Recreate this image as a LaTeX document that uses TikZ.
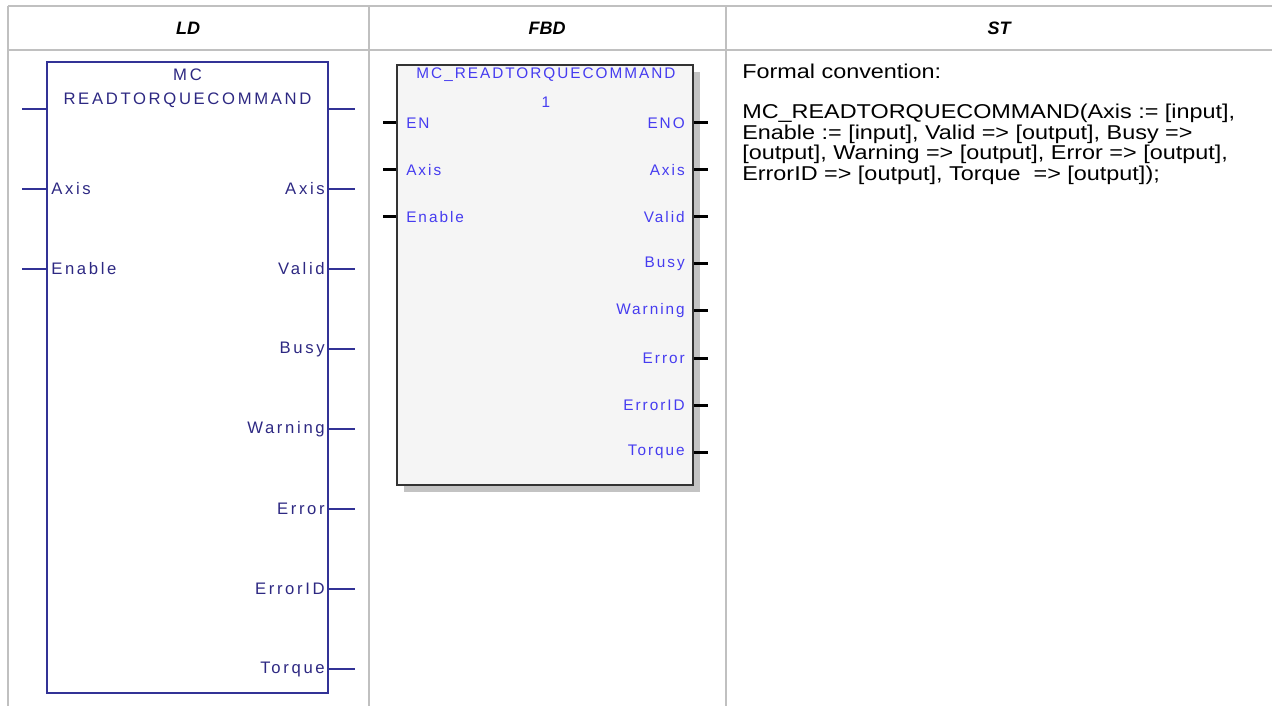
\documentclass[tikz,border=0pt]{standalone}
\usepackage{fontspec}
\setmainfont{Liberation Sans}
\newfontfamily\ldfont[LetterSpace=16]{Liberation Sans}
\newfontfamily\fbdfont[LetterSpace=13]{Liberation Sans}
\usepackage{tikz}
\usetikzlibrary{positioning,shadows}

\definecolor{gridgray}{RGB}{192,192,192}
\definecolor{ldline}{RGB}{50,50,150}
\definecolor{ldtext}{RGB}{45,40,130}
\definecolor{fbdtext}{RGB}{70,60,240}
\definecolor{fbdfill}{RGB}{245,245,245}
\definecolor{fbdshadow}{RGB}{195,195,195}

\tikzset{
  gridline/.style={draw=gridgray, line width=1.5pt},
  header/.style={font=\fontsize{13.5}{15}\selectfont\bfseries\itshape},
  ldbox/.style={draw=ldline, line width=1.9pt, inner sep=0pt,
    minimum width=210.75pt, minimum height=473.25pt},
  ldpin/.style={draw=ldline, line width=1.6pt},
  ldlabel/.style={text=ldtext, inner sep=0pt, font=\ldfont\fontsize{12.5}{14}\selectfont},
  fbdbox/.style={draw=black!80, line width=1.5pt, fill=fbdfill, inner sep=0pt,
    minimum width=222pt, minimum height=315pt,
    drop shadow={shadow xshift=5.25pt, shadow yshift=-5.25pt, fill=fbdshadow, opacity=1}},
  fbdpin/.style={draw=black, line width=2.25pt},
  fbdlabel/.style={text=fbdtext, inner sep=0pt, font=\fbdfont\fontsize{11.5}{13}\selectfont},
  sttext/.style={inner sep=0pt, anchor=base west, font=\fontsize{15}{17}\selectfont}
}
\newcommand{\stwide}[1]{\scalebox{1.17}[1]{#1}}

\begin{document}
\begin{tikzpicture}[x=0.75pt,y=-0.75pt]
\useasboundingbox (0,0) rectangle (1272,706);
% Table grid
\draw[gridline] (8,6) -- (1272,6);
\draw[gridline] (8,50) -- (1272,50);
\foreach \x in {8,369,726} {
    \draw[gridline] (\x,6) -- (\x,706);
}
% Column headers
\node[header] (hld) at (188,28) {LD};
\node[header] (hfbd) at (547,28) {FBD};
\node[header] (hst) at (999,28) {ST};

% LD block
\node[ldbox] (ld) at (187.5,377.5) {};
\node[ldlabel] (ldtitle1) at (187.5,75) {MC};
\node[ldlabel] (ldtitle2) at (187.5,100) {READTORQUECOMMAND};
% LD inputs
\coordinate (ldin109) at (22,109);
\draw[ldpin] (ldin109) -- (ldin109 -| ld.west);
\foreach \y/\lbl in {189/Axis,269/Enable} {
    \node[ldlabel, anchor=west] (ldin-\lbl) at (51,\y) {\lbl};
    \coordinate (ldin\y) at (22,\y);
    \draw[ldpin] (ldin\y) -- (ldin\y -| ld.west);
}
% LD outputs
\coordinate (ldout109) at (355,109);
\draw[ldpin] (ld.east |- ldout109) -- (ldout109);
\foreach \y/\lbl in {189/Axis,269/Valid,349/Busy,429/Warning,509/Error,589/ErrorID,669/Torque} {
    \node[ldlabel, anchor=east] (ldout-\lbl) at (325,\y) {\lbl};
    \coordinate (ldout\y) at (355,\y);
    \draw[ldpin] (ld.east |- ldout\y) -- (ldout\y);
}

% FBD block
\node[fbdbox] (fbd) at (545,275) {};
\node[fbdlabel] (fbdtitle) at (546,75) {MC\_READTORQUECOMMAND};
\node[fbdlabel] (fbdinst) at (546,102) {1};
% FBD inputs
\foreach \y/\lbl in {123/EN,170/Axis,217/Enable} {
    \node[fbdlabel, anchor=west] (fbdin-\lbl) at (406,\y) {\lbl};
    \coordinate (fbdin\y) at (383,\y);
    \draw[fbdpin] (fbdin\y) -- (fbdin\y -| fbd.west);
}
% FBD outputs
\foreach \y/\lbl in {123/ENO,170/Axis,217/Valid,264/Busy,311/Warning,358/Error,405/ErrorID,452/Torque} {
    \node[fbdlabel, anchor=east] (fbdout-\lbl) at (685,\y) {\lbl};
    \coordinate (fbdout\y) at (708,\y);
    \draw[fbdpin] (fbd.east |- fbdout\y) -- (fbdout\y);
}

% ST formal convention
\node[sttext] (stnote) at (742,79) {\stwide{Formal convention:}};
\node[sttext] (stline1) at (742,119) {\stwide{MC\_READTORQUECOMMAND(Axis := [input],}};
\node[sttext] (stline2) at (742,139.5) {\stwide{Enable := [input], Valid => [output], Busy =>}};
\node[sttext] (stline3) at (742,160) {\stwide{[output], Warning => [output], Error => [output],}};
\node[sttext] (stline4) at (742,180.5) {\stwide{ErrorID => [output], Torque~~=> [output]);}};
\end{tikzpicture}
\end{document}
